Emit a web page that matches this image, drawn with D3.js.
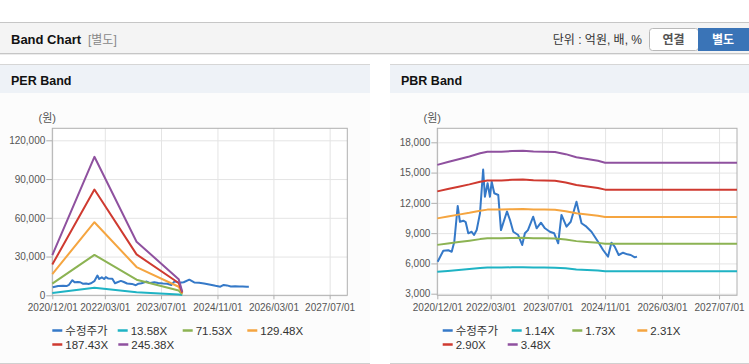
<!DOCTYPE html>
<html><head><meta charset="utf-8">
<script src="https://cdn.jsdelivr.net/npm/d3@7"></script>
<style>
html,body{margin:0;padding:0;background:#fff;}
svg{display:block;font-family:"Liberation Sans",Arial,"Noto Sans CJK KR",sans-serif;}
</style></head><body>
<svg id="c" width="749" height="364"></svg>
<script>
// ---------- DATA ----------
const xTickDates = ["2020-12-01","2022-03-01","2023-07-01","2024-11-01","2026-03-01","2027-07-01"];
const perYTicks = [0, 30000, 60000, 90000, 120000];
const pbrYTicks = [3000, 6000, 9000, 12000, 15000, 18000];

const priceDates = ["2020-12-04","2021-01-21","2021-03-05","2021-04-03","2021-04-25","2021-05-24","2021-06-12","2021-07-11","2021-07-31","2021-08-22","2021-09-20","2021-10-10","2021-11-02","2021-11-30","2021-12-27","2022-01-11","2022-02-03","2022-02-23","2022-03-10","2022-04-01","2022-05-05","2022-05-28","2022-07-18","2022-08-13","2022-09-10","2022-10-22","2022-11-25","2022-12-18","2023-01-13","2023-02-27","2023-03-28","2023-05-04","2023-06-07","2023-07-19","2023-08-25","2023-09-28","2023-10-26","2023-12-08","2024-01-13","2024-03-02","2024-04-14","2024-05-26","2024-07-08","2024-09-02","2024-10-15","2024-11-26","2024-12-25","2025-01-22","2025-02-25","2025-04-03","2025-05-10","2025-06-08","2025-07-12","2025-07-31"];
const priceValues = [6170,7260,7300,7160,8150,11690,10130,10230,10100,8985,9140,8815,9310,10960,15300,12610,13940,12610,14100,12950,12780,9300,11150,10300,9140,8815,7825,8985,9300,10630,9480,10035,9480,9140,8985,7990,10800,9640,10130,12115,9975,9640,9140,8150,7330,6670,8055,7660,6835,7060,6900,6835,6600,6670];

const perBandDates = ["2020-12-01","2021-12-01","2022-12-01","2023-12-01","2024-01-01"];
const per1358 = [1725, 5934, 2295, 693, 155];
const per7153 = [9084, 31259, 12089, 3648, 815];
const per12948 = [16444, 56583, 21882, 6603, 1476];
const per18743 = [23804, 81907, 31676, 9559, 2137];
const per24538 = [31163, 107231, 41469, 12514, 2797];
const perNames = ["수정주가","13.58X","71.53X","129.48X","187.43X","245.38X"];

const pbrBandDates = ["2020-12-01","2021-03-01","2021-06-01","2021-09-01","2021-12-01","2022-02-01","2022-06-01","2022-09-01","2022-12-01","2023-03-01","2023-06-01","2023-09-01","2023-12-01","2024-03-01","2024-06-01","2024-09-01","2024-11-01","2027-12-01"];
const pbr114 = [5164,5255,5347,5438,5540,5592,5592,5615,5626,5597,5592,5580,5512,5409,5358,5295,5233,5233];
const pbr173 = [7837,7975,8114,8252,8408,8486,8486,8520,8538,8494,8486,8468,8365,8209,8131,8036,7941,7941];
const pbr231 = [10464,10649,10834,11019,11227,11331,11331,11377,11400,11342,11331,11307,11169,10961,10857,10730,10603,10603];
const pbr290 = [13137,13369,13601,13833,14094,14225,14225,14283,14312,14239,14225,14196,14022,13761,13630,13471,13311,13311];
const pbr348 = [15764,16043,16321,16600,16913,17069,17069,17139,17174,17087,17069,17035,16826,16513,16356,16165,15973,15973];
const pbrNames = ["수정주가","1.14X","1.73X","2.31X","2.90X","3.48X"];

const seriesColors = ["#3579c8","#1fb3c4","#8cb353","#f5a540","#cf3a30","#8f519f"];

// ---------- DRAW ----------
const svg = d3.select("#c");
const pd = d3.timeParse("%Y-%m-%d");
const FONT = '"Liberation Sans",Arial,"Noto Sans CJK KR",sans-serif';

// top header bar
svg.append("rect").attr("x",0).attr("y",22).attr("width",749).attr("height",31).attr("fill","#f4f4f4");
svg.append("line").attr("x1",0).attr("x2",749).attr("y1",22.5).attr("y2",22.5).attr("stroke","#c6c6c6");
svg.append("line").attr("x1",0).attr("x2",749).attr("y1",53.5).attr("y2",53.5).attr("stroke","#c6c6c6");
svg.append("line").attr("x1",0).attr("x2",749).attr("y1",54.5).attr("y2",54.5).attr("stroke","#ececec");
svg.append("text").attr("x",11).attr("y",44).attr("font-size","13px").attr("font-weight","bold").attr("fill","#111").text("Band Chart");
svg.append("text").attr("x",88).attr("y",44).attr("font-size","12px").attr("fill","#888").text("[별도]");
svg.append("text").attr("x",642).attr("y",44).attr("text-anchor","end").attr("font-size","12px").attr("fill","#333").text("단위 : 억원, 배, %");
svg.append("rect").attr("x",649.5).attr("y",28.5).attr("width",49).attr("height",22).attr("rx",3).attr("fill","#fff").attr("stroke","#b9b9b9");
svg.append("text").attr("x",673.5).attr("y",44).attr("text-anchor","middle").attr("font-size","12px").attr("font-weight","bold").attr("fill","#555").text("연결");
svg.append("rect").attr("x",698).attr("y",28).attr("width",51).attr("height",23).attr("fill","#3a74b7");
svg.append("text").attr("x",723).attr("y",44).attr("text-anchor","middle").attr("font-size","12px").attr("font-weight","bold").attr("fill","#fff").text("별도");

// panels
function panel(px, pw, title) {
  svg.append("rect").attr("x",px).attr("y",64).attr("width",pw).attr("height",299).attr("fill","#fcfcfc");
  svg.append("line").attr("x1",px).attr("x2",px+pw).attr("y1",64.5).attr("y2",64.5).attr("stroke","#d6d6d6");
  svg.append("rect").attr("x",px).attr("y",65).attr("width",pw).attr("height",28).attr("fill","#eef2f7");
  svg.append("line").attr("x1",px).attr("x2",px+pw).attr("y1",363.5).attr("y2",363.5).attr("stroke","#d0d0d0");
  svg.append("text").attr("x",px+11).attr("y",84.5).attr("font-size","12.5px").attr("font-weight","bold").attr("fill","#111").text(title);
}
panel(0, 370, "PER Band");
panel(390, 359, "PBR Band");

const TOP = 128.3, BOTTOM = 295.3;

function drawChart(cfg) {
  const x = d3.scaleTime().domain([pd("2020-12-01"), pd("2027-12-01")]).range([cfg.left, cfg.right]);
  const y = d3.scaleLinear().domain(cfg.yDomain).range([BOTTOM, TOP]);
  const g = svg.append("g");
  g.append("rect").attr("x",cfg.left).attr("y",TOP).attr("width",cfg.right-cfg.left).attr("height",BOTTOM-TOP).attr("fill","#fff");
  const xt = xTickDates.map(pd);
  // grid
  const gx = g.append("g").attr("transform",`translate(0,${BOTTOM})`)
    .call(d3.axisBottom(x).tickValues(xt).tickSize(-(BOTTOM-TOP)).tickFormat(""));
  gx.select(".domain").remove(); gx.selectAll("line").attr("stroke","#e4e4e4");
  const gy = g.append("g").attr("transform",`translate(${cfg.left},0)`)
    .call(d3.axisLeft(y).tickValues(cfg.yTicks).tickSize(-(cfg.right-cfg.left)).tickFormat(""));
  gy.select(".domain").remove(); gy.selectAll("line").attr("stroke","#e4e4e4");
  // box
  g.append("rect").attr("x",cfg.left).attr("y",TOP).attr("width",cfg.right-cfg.left).attr("height",BOTTOM-TOP)
    .attr("fill","none").attr("stroke","#b0b0b0");
  // axes
  const ya = g.append("g").attr("transform",`translate(${cfg.left},0)`)
    .call(d3.axisLeft(y).tickValues(cfg.yTicks).tickFormat(d3.format(",")).tickSize(6).tickPadding(1));
  ya.attr("font-family",FONT).attr("font-size",10);
  ya.select(".domain").remove(); ya.selectAll("line").attr("stroke","#b0b0b0"); ya.selectAll("text").attr("fill","#555");
  const xa = g.append("g").attr("transform",`translate(0,${BOTTOM})`)
    .call(d3.axisBottom(x).tickValues(xt).tickFormat(d3.timeFormat("%Y/%m/%d")).tickSize(4).tickPadding(5));
  xa.attr("font-family",FONT).attr("font-size",10);
  xa.select(".domain").remove(); xa.selectAll("line").attr("stroke","#b0b0b0"); xa.selectAll("text").attr("fill","#555");
  // unit
  g.append("text").attr("x",cfg.left-5).attr("y",122).attr("text-anchor","middle").attr("font-size","11px").attr("fill","#555").text("(원)");
  // lines
  const line = d3.line().x(d=>x(d[0])).y(d=>y(d[1]));
  cfg.series.forEach((s,i) => {
    g.append("path").datum(d3.zip(s.dates.map(pd), s.values)).attr("d",line)
      .attr("fill","none").attr("stroke",seriesColors[i]).attr("stroke-width",2).attr("stroke-linejoin","round");
  });
  // legend
  cfg.names.forEach((n,i) => {
    const lx = cfg.legendX[i], ly = i < 4 ? 330.5 : 344.5;
    g.append("line").attr("x1",lx).attr("x2",lx+10).attr("y1",ly).attr("y2",ly).attr("stroke",seriesColors[i]).attr("stroke-width",2.5);
    g.append("text").attr("x",lx+13).attr("y",ly+4).attr("font-size","11.5px").attr("fill","#333").text(n);
  });
}

drawChart({
  left: 52.3, right: 347.3, yDomain: [0, 129300], yTicks: perYTicks, names: perNames,
  legendX: [52.3,117.7,182.7,247.3,52.3,118.3],
  series: [
    {dates: priceDates, values: priceValues},
    {dates: perBandDates, values: per1358},
    {dates: perBandDates, values: per7153},
    {dates: perBandDates, values: per12948},
    {dates: perBandDates, values: per18743},
    {dates: perBandDates, values: per24538}
  ]
});
drawChart({
  left: 437.3, right: 737, yDomain: [2841, 19388], yTicks: pbrYTicks, names: pbrNames,
  legendX: [442.7,511.7,572.3,637.3,442.7,507.7],
  series: [
    {dates: priceDates, values: priceValues},
    {dates: pbrBandDates, values: pbr114},
    {dates: pbrBandDates, values: pbr173},
    {dates: pbrBandDates, values: pbr231},
    {dates: pbrBandDates, values: pbr290},
    {dates: pbrBandDates, values: pbr348}
  ]
});
</script></body></html>
